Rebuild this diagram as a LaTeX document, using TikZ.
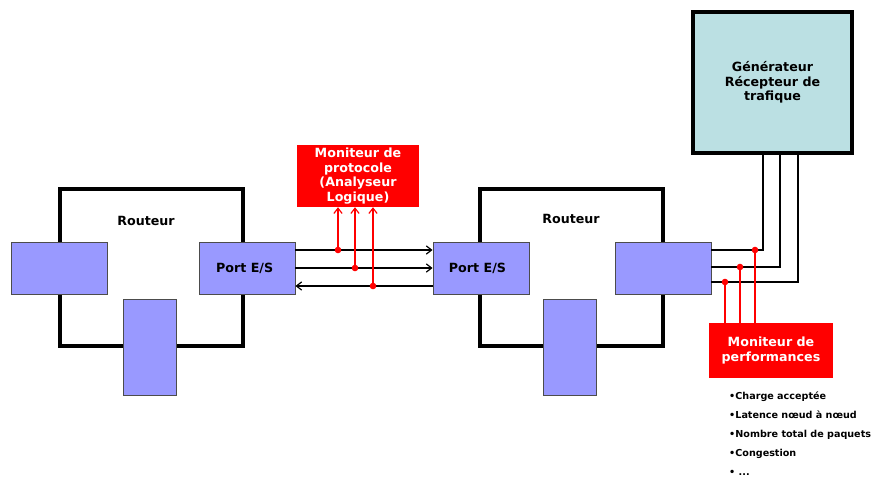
\documentclass[tikz,border=0pt]{standalone}
\usepackage{fontspec}
\setmainfont{DejaVu Sans}
\usetikzlibrary{arrows.meta}
\definecolor{portbleu}{HTML}{9999FF}
\definecolor{genbleu}{HTML}{BBE0E3}
\begin{document}
\begin{tikzpicture}[x=0.03cm, y=-0.03cm,
    every node/.style={font=\fontsize{10.8}{12.5}\selectfont\bfseries},
    routeur/.style={draw, line width=2.8pt, minimum width=5.49cm, minimum height=4.71cm},
    porth/.style={draw=black!70, fill=portbleu, line width=0.8pt, minimum width=2.88cm, minimum height=1.56cm},
    portv/.style={draw=black!70, fill=portbleu, line width=0.8pt, minimum width=1.59cm, minimum height=2.88cm},
    moniteur/.style={fill=red, text=white, align=center, inner sep=0pt},
    fleche/.style={-{Straight Barb[length=4.5pt,width=7pt,line width=1pt]}, line width=1pt},
    sonde/.style={red, line width=1pt}]
\useasboundingbox (0,0) rectangle (881,477);

\node[routeur] (rA) at (151.5,267.5) {};
\node[routeur] (rB) at (571.5,267.5) {};
\node at (146,221) (lA) {Routeur};
\node at (571,219) (lB) {Routeur};
\node[porth] (pA1) at (59.5,268) {};
\node[porth] (pA2) at (247,268) {\hspace*{-4pt}Port E/S};
\node[portv] (pA3) at (149.5,347) {};
\node[porth] (pB1) at (481,268) {\hspace*{-6pt}Port E/S};
\node[portv] (pB3) at (569.5,347) {};
\node[porth] (pB2) at (663,268) {};

\node[moniteur, minimum width=3.66cm, minimum height=1.86cm] (proto) at (358,176)
    {Moniteur de\\protocole\\(Analyseur\\Logique)};
\node[moniteur, minimum width=3.72cm, minimum height=1.65cm] (perf) at (771,350.5)
    {\raisebox{-3pt}{\parbox{3.5cm}{\centering Moniteur de\\performances}}};
\node[draw, line width=2.8pt, fill=genbleu, align=center, minimum width=4.77cm, minimum height=4.23cm] (gen) at (772.5,82.5)
    {\raisebox{-19pt}{\parbox{4cm}{\centering Générateur\\Récepteur de\\trafique}}};
\node[anchor=north west, align=left, inner sep=0pt, font=\fontsize{8.2}{16.2}\selectfont\bfseries] (liste) at (729,392)
    {•Charge acceptée\\•Latence nœud à nœud\\•Nombre total de paquets\\•Congestion\\• ...};

\coordinate (t1) at (338,250);
\coordinate (t2) at (355,268);
\coordinate (t3) at (373,286);
\draw[fleche] (pA2.east |- t1) -- (pB1.west |- t1);
\draw[fleche] (pA2.east |- t2) -- (pB1.west |- t2);
\draw[fleche] (pB1.west |- t3) -- (pA2.east |- t3);
\foreach \t in {t1,t2,t3}{
  \draw[sonde, fleche, red] (\t) -- (\t |- proto.south);
  \fill[red] (\t) circle (2.8pt);
}

\coordinate (g1) at (763,250);
\coordinate (g2) at (780,267);
\coordinate (g3) at (798,282);
\draw[line width=1.6pt] (pB2.east |- g1) -| (g1 |- gen.south);
\draw[line width=1pt] (pB2.east |- g2) -| (g2 |- gen.south);
\draw[line width=1.3pt] (pB2.east |- g3) -| (g3 |- gen.south);

\coordinate (d1) at (755,250);
\coordinate (d2) at (740,267);
\coordinate (d3) at (725,282);
\draw[sonde] (perf.north -| d1) -- (d1);
\draw[sonde, line width=1.6pt] (perf.north -| d2) -- (d2);
\draw[sonde] (perf.north -| d3) -- (d3);
\foreach \d in {d1,d2,d3}
  \fill[red] (\d) circle (2.8pt);
\end{tikzpicture}
\end{document}
